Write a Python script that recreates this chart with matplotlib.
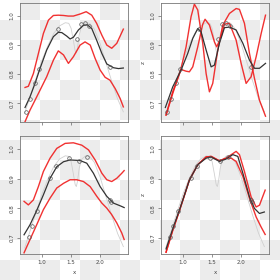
import numpy as np
import matplotlib
matplotlib.use("Agg")
import matplotlib.pyplot as plt

# true curve (light grey), same in all panels
true_x = [0.70, 0.80, 0.90, 1.00, 1.10, 1.20, 1.30, 1.40, 1.46, 1.50, 1.54, 1.57, 1.59,
          1.61, 1.64, 1.68, 1.75, 1.82, 1.90, 2.00, 2.10, 2.20, 2.30, 2.40]
true_y = [0.665, 0.727, 0.788, 0.848, 0.898, 0.940, 0.966, 0.977, 0.975, 0.958, 0.915, 0.880, 0.873,
          0.890, 0.935, 0.965, 0.977, 0.975, 0.955, 0.905, 0.840, 0.775, 0.715, 0.670]

# observations
obs_top_x = [0.724, 0.793, 0.879, 0.948, 1.276, 1.603, 1.672, 1.741, 1.810, 2.170]
obs_top_y = [0.669, 0.714, 0.769, 0.817, 0.955, 0.921, 0.972, 0.976, 0.966, 0.824]
obs_bot_x = [0.776, 0.828, 0.909, 1.138, 1.236, 1.470, 1.643, 1.776, 2.170, 2.190]
obs_bot_y = [0.701, 0.738, 0.792, 0.903, 0.943, 0.970, 0.959, 0.972, 0.829, 0.820]

# panel 1 (top left)
p1_mean_x = [0.707, 0.793, 0.879, 0.966, 1.08, 1.195, 1.28, 1.34, 1.425, 1.483, 1.54, 1.626,
             1.713, 1.78, 1.856, 1.94, 2.03, 2.115, 2.23, 2.316, 2.40]
p1_mean_y = [0.685, 0.722, 0.768, 0.820, 0.883, 0.929, 0.944, 0.943, 0.931, 0.921, 0.927, 0.952,
             0.968, 0.970, 0.957, 0.917, 0.871, 0.835, 0.822, 0.819, 0.821]
p1_up_x = [0.707, 0.764, 0.851, 0.937, 1.023, 1.11, 1.195, 1.28, 1.37, 1.45, 1.54, 1.655,
           1.76, 1.856, 1.94, 2.03, 2.115, 2.20, 2.287, 2.40]
p1_up_y = [0.754, 0.758, 0.802, 0.871, 0.940, 0.986, 1.002, 1.003, 1.002, 1.000, 1.000, 1.007,
           1.015, 1.003, 0.975, 0.934, 0.900, 0.889, 0.906, 0.955]
p1_lo_x = [0.707, 0.793, 0.879, 0.966, 1.08, 1.195, 1.28, 1.37, 1.454, 1.54, 1.655, 1.74,
           1.83, 1.914, 2.0, 2.086, 2.17, 2.26, 2.345, 2.40]
p1_lo_y = [0.636, 0.676, 0.710, 0.745, 0.791, 0.848, 0.880, 0.866, 0.837, 0.860, 0.900, 0.911,
           0.900, 0.854, 0.814, 0.789, 0.779, 0.750, 0.716, 0.687]

# panel 2 (top right)
p2_mean_x = [0.695, 0.822, 0.966, 1.08, 1.167, 1.253, 1.31, 1.397, 1.483, 1.54, 1.626, 1.713,
             1.80, 1.914, 2.03, 2.144, 2.23, 2.316, 2.42]
p2_mean_y = [0.685, 0.756, 0.814, 0.871, 0.923, 0.957, 0.946, 0.883, 0.825, 0.831, 0.906, 0.960,
             0.962, 0.952, 0.906, 0.848, 0.820, 0.820, 0.837]
p2_a_x = [0.707, 0.822, 0.966, 1.052, 1.138, 1.195, 1.253, 1.339, 1.397, 1.454, 1.511, 1.598,
          1.684, 1.799, 1.914, 1.971, 2.057, 2.144, 2.23, 2.316, 2.42]
p2_a_y = [0.659, 0.733, 0.820, 0.894, 0.998, 1.041, 1.021, 0.906, 0.802, 0.739, 0.768, 0.883,
          0.969, 1.009, 1.026, 1.023, 0.975, 0.871, 0.785, 0.710, 0.655]
p2_b_x = [0.707, 0.822, 0.966, 1.052, 1.109, 1.167, 1.253, 1.339, 1.379, 1.454, 1.54, 1.58,
          1.655, 1.713, 1.799, 1.914, 2.0, 2.086, 2.172, 2.259, 2.345, 2.42]
p2_b_y = [0.659, 0.739, 0.816, 0.810, 0.808, 0.825, 0.894, 0.972, 0.989, 0.969, 0.911, 0.894,
          0.929, 0.972, 0.975, 0.917, 0.837, 0.768, 0.791, 0.860, 0.940, 1.003]

# panel 3 (bottom left)
p3_mean_x = [0.69, 0.793, 0.908, 1.023, 1.138, 1.253, 1.37, 1.483, 1.655, 1.77, 1.885, 2.0,
             2.115, 2.23, 2.345, 2.414]
p3_mean_y = [0.710, 0.744, 0.792, 0.845, 0.901, 0.940, 0.957, 0.963, 0.961, 0.952, 0.918, 0.873,
             0.840, 0.817, 0.808, 0.802]
p3_up_x = [0.69, 0.764, 0.851, 0.937, 1.023, 1.138, 1.253, 1.397, 1.54, 1.684, 1.80, 1.914,
           2.03, 2.115, 2.20, 2.287, 2.373, 2.414]
p3_up_y = [0.823, 0.811, 0.828, 0.873, 0.924, 0.969, 1.002, 1.019, 1.021, 1.013, 0.997, 0.963,
           0.918, 0.896, 0.890, 0.901, 0.918, 0.927]
p3_lo_x = [0.69, 0.793, 0.908, 1.023, 1.138, 1.253, 1.37, 1.483, 1.598, 1.713, 1.828, 1.943,
           2.03, 2.115, 2.20, 2.287, 2.373, 2.414]
p3_lo_y = [0.649, 0.694, 0.744, 0.795, 0.834, 0.868, 0.884, 0.896, 0.896, 0.890, 0.873, 0.840,
           0.817, 0.800, 0.778, 0.750, 0.716, 0.694]

# panel 4 (bottom right)
p4_mean_x = [0.707, 0.822, 0.937, 1.109, 1.253, 1.397, 1.483, 1.626, 1.741, 1.856, 1.943, 2.03,
             2.144, 2.23, 2.316, 2.40]
p4_mean_y = [0.662, 0.730, 0.793, 0.895, 0.947, 0.969, 0.973, 0.958, 0.966, 0.981, 0.975, 0.918,
             0.838, 0.799, 0.782, 0.787]
p4_up_x = [0.707, 0.822, 0.937, 1.109, 1.253, 1.397, 1.483, 1.626, 1.741, 1.914, 1.971, 2.057,
           2.172, 2.259, 2.316, 2.414]
p4_up_y = [0.651, 0.725, 0.791, 0.895, 0.947, 0.973, 0.975, 0.960, 0.969, 0.992, 0.981, 0.924,
           0.838, 0.804, 0.810, 0.861]
p4_lo_x = [0.707, 0.822, 0.937, 1.109, 1.253, 1.397, 1.483, 1.626, 1.741, 1.828, 1.914, 2.03,
           2.144, 2.259, 2.345, 2.414]
p4_lo_y = [0.651, 0.725, 0.791, 0.895, 0.947, 0.973, 0.975, 0.960, 0.969, 0.969, 0.958, 0.907,
           0.833, 0.770, 0.736, 0.711]

xticks = [1.0, 1.5, 2.0]
yticks = [0.7, 0.8, 0.9, 1.0]

fig = plt.figure(figsize=(2.8, 2.8), dpi=100)

# transparent-background checkerboard
bg = fig.add_axes([0, 0, 1, 1], zorder=-10)
checker = np.indices((14, 14)).sum(axis=0) % 2
bg.imshow(checker, cmap="gray_r", vmin=0, vmax=13, interpolation="nearest", aspect="auto")
bg.axis("off")

panels = [
    dict(pos=[0.0714, 0.5643, 0.3857, 0.425], ylim=(0.635, 1.045),
         mean=(p1_mean_x, p1_mean_y), reds=[(p1_up_x, p1_up_y), (p1_lo_x, p1_lo_y)],
         obs=(obs_top_x, obs_top_y), xlab=False, ylab=False),
    dict(pos=[0.575, 0.5643, 0.3857, 0.425], ylim=(0.635, 1.045),
         mean=(p2_mean_x, p2_mean_y), reds=[(p2_a_x, p2_a_y), (p2_b_x, p2_b_y)],
         obs=(obs_top_x, obs_top_y), xlab=False, ylab=True),
    dict(pos=[0.0714, 0.0929, 0.3857, 0.4214], ylim=(0.645, 1.044),
         mean=(p3_mean_x, p3_mean_y), reds=[(p3_up_x, p3_up_y), (p3_lo_x, p3_lo_y)],
         obs=(obs_bot_x, obs_bot_y), xlab=True, ylab=False),
    dict(pos=[0.575, 0.0929, 0.3857, 0.4214], ylim=(0.645, 1.044),
         mean=(p4_mean_x, p4_mean_y), reds=[(p4_up_x, p4_up_y), (p4_lo_x, p4_lo_y)],
         obs=(obs_bot_x, obs_bot_y), xlab=True, ylab=True),
]

for p in panels:
    ax = fig.add_axes(p["pos"])
    ax.patch.set_alpha(0)
    ax.plot(true_x, true_y, color="#d0d0d0", lw=0.6)
    for rx, ry in p["reds"]:
        ax.plot(rx, ry, color="#f01c1c", lw=1.0, alpha=0.9, solid_joinstyle="round")
    ax.plot(*p["mean"], color="#333333", lw=0.9, solid_joinstyle="round")
    ax.plot(*p["obs"], "o", ms=2.6, mfc="none", mec="#555555", mew=0.5)
    ax.set_xlim(0.62, 2.48)
    ax.set_ylim(*p["ylim"])
    ax.set_xticks(xticks)
    ax.set_yticks(yticks)
    ax.set_yticklabels([f"{v:.1f}" for v in yticks], rotation=90, va="center")
    if p["xlab"]:
        ax.set_xticklabels([f"{v:.1f}" for v in xticks])
        ax.set_xlabel("x", fontsize=4, labelpad=4, color="#444444")
    else:
        ax.set_xticklabels([])
    if p["ylab"]:
        ax.set_ylabel("z", fontsize=4, labelpad=3, color="#444444")
    ax.tick_params(length=2.2, width=0.5, labelsize=4, pad=2, colors="#666666",
                   labelcolor="#444444")
    for s in ax.spines.values():
        s.set_linewidth(0.6)
        s.set_color("#777777")

fig.savefig("out.png", dpi=100)
